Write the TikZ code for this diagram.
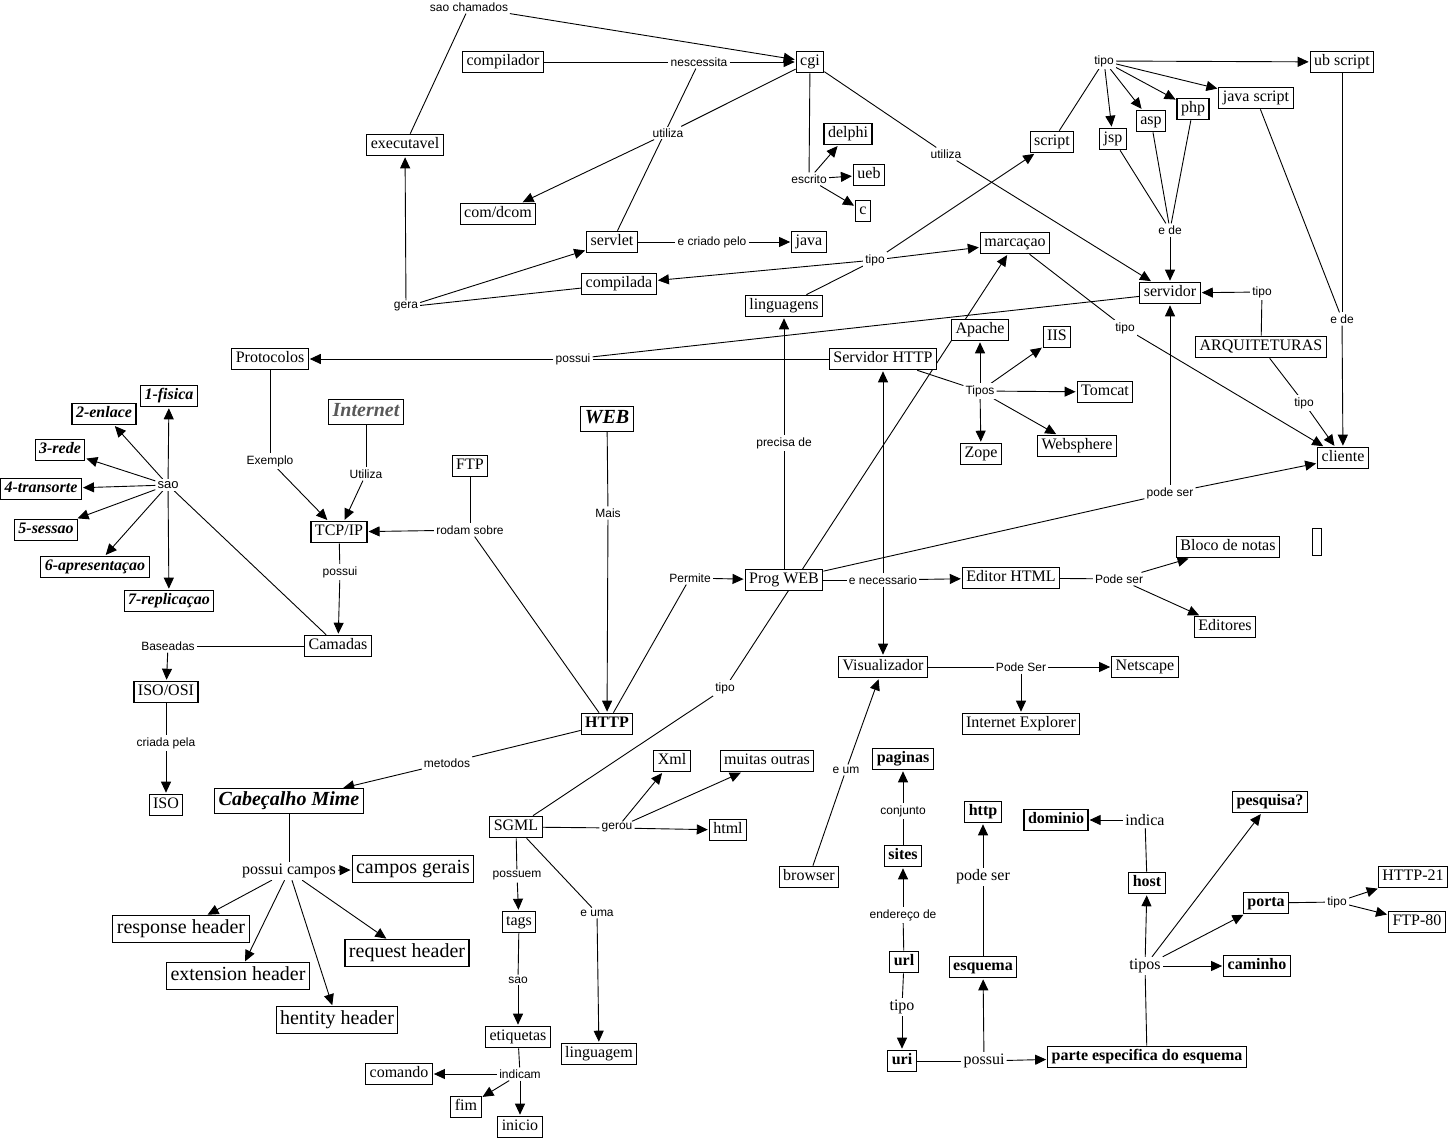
\documentclass[tikz,border=0pt]{standalone}
\usepackage{fontspec}
\setmainfont{Liberation Serif}
\setsansfont{Liberation Sans}
\usetikzlibrary{arrows.meta}
\pgfdeclarelayer{edges}
\pgfsetlayers{edges,main}
\tikzset{
  bx/.style={draw, line width=1.1pt, fill=white, inner xsep=4pt, inner ysep=3.5pt,
    font=\rmfamily\fontsize{16}{18}\selectfont, text height=11pt, text depth=3.5pt},
  bbx/.style={bx, font=\rmfamily\bfseries\fontsize{16}{18}\selectfont},
  bix/.style={bx, font=\rmfamily\bfseries\itshape\fontsize{16}{18}\selectfont},
  bigx/.style={bx, font=\rmfamily\fontsize{20}{22}\selectfont, text height=14pt, text depth=4.5pt, inner ysep=4pt},
  bigbi/.style={bigx, font=\rmfamily\bfseries\itshape\fontsize{20}{22}\selectfont, inner ysep=3pt},
  lb/.style={fill=white, inner sep=2pt, font=\sffamily\fontsize{12}{14}\selectfont},
  lbs/.style={fill=white, inner sep=2pt, font=\rmfamily\fontsize{16}{18}\selectfont},
  ar/.style={-{Triangle[length=11pt,width=10pt]}, line width=0.9pt, shorten >=1pt},
  ln/.style={line width=0.9pt},
}
\begin{document}
\begin{tikzpicture}[x=1pt,y=-1pt]
\path[use as bounding box] (0,0) rectangle (1450,1139);
% ---------- top area
\node[lb] (saocham) at (469,7) {sao chamados};
\node[bx] (compilador) at (503,62) {compilador};
\node[lb] (nesc) at (699,62) {nescessita};
\node[bx] (cgi) at (810,62) {cgi};
\node[bx] (exec) at (405,145) {executavel};
\node[lb] (util1) at (668,133) {utiliza};
\node[bx] (comdcom) at (498,214) {com/dcom};
\node[bx] (servlet) at (612,242) {servlet};
\node[lb] (criado) at (712,242) {e criado pelo};
\node[bx] (java) at (809,242) {java};
\node[bx] (compilada) at (619,284) {compilada};
\node[lb] (gera) at (406,307) {gera};
\node[bx] (delphi) at (848,134) {delphi};
\node[lb] (escrito) at (809,179) {escrito};
\node[bx] (ueb) at (869,175) {ueb};
\node[bx] (cc) at (863,211) {c};
\node[lb] (tipoling) at (875,260) {tipo};
\node[bx] (marc) at (1015,243) {marcaçao};
\node[bx] (ling) at (784,306) {linguagens};
\node[bx] (script) at (1052,142) {script};
\node[lb] (util2) at (946,154) {utiliza};
\node[lb] (tiposcr) at (1104,61) {tipo};
\node[bx] (ubscript) at (1342,62) {ub script};
\node[bx] (jscript) at (1256,98) {java script};
\node[bx] (php) at (1193,109) {php};
\node[bx] (asp) at (1151,121) {asp};
\node[bx] (jsp) at (1113,139) {jsp};
\node[lb] (ede1) at (1170,230) {e de};
\node[bx] (servidor) at (1170,293) {servidor};
\node[lb] (tiposrv) at (1262,292) {tipo};
\node[bx] (arq) at (1261,347) {ARQUITETURAS};
\node[lb] (ede2) at (1342,319) {e de};
\node[lb] (tipomarc) at (1125,328) {tipo};
\node[lb] (tipoarq) at (1304,403) {tipo};
\node[bx] (cliente) at (1343,458) {cliente};
% ---------- middle
\node[bx] (protocolos) at (270,359) {Protocolos};
\node[lb] (possui) at (573,359) {possui};
\node[bx] (servhttp) at (883,359) {Servidor HTTP};
\node[bx] (apache) at (980,330) {Apache};
\node[bx] (iis) at (1057,337) {IIS};
\node[lb] (tipos) at (980,391) {Tipos};
\node[bx] (tomcat) at (1105,392) {Tomcat};
\node[bx] (zope) at (981,454) {Zope};
\node[bx] (websphere) at (1077,446) {Websphere};
\node[lb] (precisa) at (784,443) {precisa de};
\node[lb] (podeser) at (1170,493) {pode ser};
\node[bx] (bloco) at (1228,547) {Bloco de notas};
\node[draw, line width=1.1pt, fill=white, minimum width=9pt, minimum height=27pt, inner sep=0pt] (vazio) at (1317,542) {};
\node[bx] (editores) at (1225,627) {Editores};
\node[lb] (podeser2) at (1119,579) {Pode ser};
\node[bx] (editor) at (1011,578) {Editor HTML};
\node[lb] (enec) at (883,580) {e necessario};
\node[bx] (progweb) at (784,580) {Prog WEB};
\node[lb] (permite) at (690,578) {Permite};
\node[bx] (visual) at (883,667) {Visualizador};
\node[lb] (podeser3) at (1021,667) {Pode Ser};
\node[bx] (netscape) at (1145,667) {Netscape};
\node[bx] (ie) at (1021,724) {Internet Explorer};
\node[lb] (tiposgml) at (725,688) {tipo};
% ---------- left
\node[bix] (l1) at (169,396) {1-fisica};
\node[bix] (l2) at (104,414) {2-enlace};
\node[bix] (l3) at (60,450) {3-rede};
\node[bix] (l4) at (41,489) {4-transorte};
\node[bix] (l5) at (46,530) {5-sessao};
\node[bix] (l6) at (95,567) {6-apresentaçao};
\node[bix] (l7) at (169,601) {7-replicaçao};
\node[lb, font=\sffamily\fontsize{13}{15}\selectfont] (sao) at (168,485) {sao};
\node[bigbi, text=black!65] (internet) at (366,412) {Internet};
\node[lb] (exemplo) at (270,461) {Exemplo};
\node[lb] (utiliza3) at (366,474) {Utiliza};
\node[bx] (ftp) at (470,466) {FTP};
\node[bx] (tcpip) at (339,532) {TCP/IP};
\node[lb] (rodam) at (470,530) {rodam sobre};
\node[lb] (possuitcp) at (340,572) {possui};
\node[bigbi] (web) at (607,419) {WEB};
\node[lb] (mais) at (608,513) {Mais};
\node[bx] (camadas) at (338,646) {Camadas};
\node[lb] (baseadas) at (168,646) {Baseadas};
\node[bx] (isoosi) at (166,692) {ISO/OSI};
\node[lb] (criada) at (166,743) {criada pela};
\node[bx] (iso) at (166,805) {ISO};
\node[bbx] (http) at (607,724) {HTTP};
\node[lb] (metodos) at (447,763) {metodos};
\node[bigbi] (cab) at (289,801) {Cabeçalho Mime};
\node[lbs] (pcampos) at (289,871) {possui campos};
\node[bigx] (gerais) at (413,869) {campos gerais};
\node[bigx] (response) at (181,929) {response header};
\node[bigx] (request) at (407,953) {request header};
\node[bigx] (extension) at (238,976) {extension header};
\node[bigx] (hentity) at (337,1020) {hentity header};
% ---------- SGML
\node[bx] (sgml) at (516,827) {SGML};
\node[lb] (gerou) at (617,828) {gerou};
\node[bx] (xml) at (672,761) {Xml};
\node[bx] (muitas) at (767,761) {muitas outras};
\node[bx] (html) at (728,830) {html};
\node[lb] (possuem) at (517,876) {possuem};
\node[bx] (tags) at (519,922) {tags};
\node[lb] (euma) at (597,913) {e uma};
\node[lb] (saotags) at (518,980) {sao};
\node[bx] (etiq) at (518,1037) {etiquetas};
\node[bx] (lingua) at (599,1054) {linguagem};
\node[lb] (indicam) at (520,1074) {indicam};
\node[bx] (comando) at (399,1074) {comando};
\node[bx] (fim) at (466,1107) {fim};
\node[bx] (inicio) at (520,1127) {inicio};
% ---------- url part
\node[lb] (eum) at (846,770) {e um};
\node[bx] (browser) at (809,877) {browser};
\node[bbx] (paginas) at (903,759) {paginas};
\node[lb] (conjunto) at (903,811) {conjunto};
\node[bbx] (sites) at (903,856) {sites};
\node[lb] (endereco) at (903,915) {endereço de};
\node[bbx] (url) at (904,962) {url};
\node[lbs] (tipourl) at (902,1007) {tipo};
\node[bbx] (uri) at (902,1061) {uri};
\node[lbs] (possuiuri) at (984,1061) {possui};
\node[bbx] (parte) at (1147,1057) {parte especifica do esquema};
\node[bbx] (esquema) at (983,967) {esquema};
\node[lbs] (podeseresq) at (983,877) {pode ser};
\node[bbx] (httpl) at (983,812) {http};
\node[bbx] (dominio) at (1056,820) {dominio};
\node[lbs] (indica) at (1145,820) {indica};
\node[bbx] (host) at (1147,883) {host};
\node[bbx] (pesquisa) at (1270,802) {pesquisa?};
\node[bbx] (porta) at (1266,903) {porta};
\node[lb] (tipoporta) at (1337,902) {tipo};
\node[bx] (http21) at (1413,877) {HTTP-21};
\node[bx] (ftp80) at (1417,922) {FTP-80};
\node[lbs] (tiposp) at (1145,966) {tipos};
\node[bbx] (caminho) at (1257,966) {caminho};

\begin{pgfonlayer}{edges}
\fill[white] (0,0) rectangle (1450,1139);
% top
\draw[ln] (exec) -- (saocham);
\draw[ar] (saocham) -- (cgi);
\draw[ln] (compilador) -- (nesc);
\draw[ln] (servlet) -- (nesc);
\draw[ar] (nesc) -- (cgi);
\draw[ln] (cgi) -- (util1);
\draw[ar] (util1) -- (comdcom);
\draw[ar] (gera) -- (exec);
\draw[ar] (gera) -- (servlet);
\draw[ln] (compilada) -- (gera);
\draw[ln] (servlet) -- (criado);
\draw[ar] (criado) -- (java);
\draw[ln] (cgi) -- (escrito);
\draw[ar] (escrito) -- (delphi);
\draw[ar] (escrito) -- (ueb);
\draw[ar] (escrito) -- (cc);
\draw[ln] (ling) -- (tipoling);
\draw[ar] (tipoling) -- (compilada);
\draw[ar] (tipoling) -- (script);
\draw[ar] (tipoling) -- (marc);
\draw[ln] (cgi) -- (util2);
\draw[ar] (util2) -- (servidor);
\draw[ln] (script) -- (tiposcr);
\draw[ar] (tiposcr) -- (ubscript);
\draw[ar] (tiposcr) -- (jscript);
\draw[ar] (tiposcr) -- (php);
\draw[ar] (tiposcr) -- (asp);
\draw[ar] (tiposcr) -- (jsp);
\draw[ln] (jsp) -- (ede1);
\draw[ln] (asp) -- (ede1);
\draw[ln] (php) -- (ede1);
\draw[ar] (ede1) -- (servidor);
\draw[ln] (jscript) -- (ede2);
\draw[ln] (ubscript) -- (ede2);
\draw[ar] (ede2) -- (cliente);
\draw[ln] (arq) -- (tiposrv);
\draw[ar] (tiposrv) -- (servidor);
\draw[ln] (arq) -- (tipoarq);
\draw[ar] (tipoarq) -- (cliente);
\draw[ln] (marc) -- (tipomarc);
\draw[ar] (tipomarc) -- (cliente);
% middle
\draw[ln] (servidor) -- (possui);
\draw[ln] (servhttp) -- (possui);
\draw[ar] (possui) -- (protocolos);
\draw[ln] (servhttp) -- (tipos);
\draw[ar] (tipos) -- (apache);
\draw[ar] (tipos) -- (iis);
\draw[ar] (tipos) -- (tomcat);
\draw[ar] (tipos) -- (zope);
\draw[ar] (tipos) -- (websphere);
\draw[ln] (progweb) -- (precisa);
\draw[ar] (precisa) -- (ling);
\draw[ln] (progweb) -- (podeser);
\draw[ar] (podeser) -- (cliente);
\draw[ar] (podeser) -- (servidor);
\draw[ln] (progweb) -- (enec);
\draw[ar] (enec) -- (editor);
\draw[ar] (enec) -- (servhttp);
\draw[ar] (enec) -- (visual);
\draw[ln] (editor) -- (podeser2);
\draw[ar] (podeser2) -- (bloco);
\draw[ar] (podeser2) -- (editores);
\draw[ln] (visual) -- (podeser3);
\draw[ar] (podeser3) -- (netscape);
\draw[ar] (podeser3) -- (ie);
\draw[ln] (http) -- (permite);
\draw[ar] (permite) -- (progweb);
\draw[ln] (sgml) -- (tiposgml);
\draw[ar] (tiposgml) -- (marc);
% left
\draw[ln] (web) -- (mais);
\draw[ar] (mais) -- (http);
\draw[ln] (ftp) -- (rodam);
\draw[ln] (http) -- (rodam);
\draw[ar] (rodam) -- (tcpip);
\draw[ln] (protocolos) -- (exemplo);
\draw[ar] (exemplo) -- (tcpip);
\draw[ln] (internet) -- (utiliza3);
\draw[ar] (utiliza3) -- (tcpip);
\draw[ln] (tcpip) -- (possuitcp);
\draw[ar] (possuitcp) -- (camadas);
\draw[ln] (camadas) -- (sao);
\draw[ar] (sao) -- (l1);
\draw[ar] (sao) -- (l2);
\draw[ar] (sao) -- (l3);
\draw[ar] (sao) -- (l4);
\draw[ar] (sao) -- (l5);
\draw[ar] (sao) -- (l6);
\draw[ar] (sao) -- (l7);
\draw[ln] (camadas) -- (baseadas);
\draw[ar] (baseadas) -- (isoosi);
\draw[ln] (isoosi) -- (criada);
\draw[ar] (criada) -- (iso);
\draw[ln] (http) -- (metodos);
\draw[ar] (metodos) -- (cab);
\draw[ln] (cab) -- (pcampos);
\draw[ar] (pcampos) -- (gerais);
\draw[ar] (pcampos) -- (response);
\draw[ar] (pcampos) -- (extension);
\draw[ar] (pcampos) -- (hentity);
\draw[ar] (pcampos) -- (request);
% SGML
\draw[ln] (sgml) -- (gerou);
\draw[ar] (gerou) -- (xml);
\draw[ar] (gerou) -- (muitas);
\draw[ar] (gerou) -- (html);
\draw[ln] (sgml) -- (possuem);
\draw[ar] (possuem) -- (tags);
\draw[ln] (tags) -- (saotags);
\draw[ar] (saotags) -- (etiq);
\draw[ln] (etiq) -- (indicam);
\draw[ar] (indicam) -- (comando);
\draw[ar] (indicam) -- (fim);
\draw[ar] (indicam) -- (inicio);
\draw[ln] (sgml) -- (euma);
\draw[ar] (euma) -- (lingua);
% url
\draw[ln] (browser) -- (eum);
\draw[ar] (eum) -- (visual);
\draw[ln] (url) -- (endereco);
\draw[ar] (endereco) -- (sites);
\draw[ln] (sites) -- (conjunto);
\draw[ar] (conjunto) -- (paginas);
\draw[ln] (url) -- (tipourl);
\draw[ar] (tipourl) -- (uri);
\draw[ln] (uri) -- (possuiuri);
\draw[ar] (possuiuri) -- (parte);
\draw[ar] (possuiuri) -- (esquema);
\draw[ln] (esquema) -- (podeseresq);
\draw[ar] (podeseresq) -- (httpl);
\draw[ln] (parte) -- (tiposp);
\draw[ar] (tiposp) -- (host);
\draw[ar] (tiposp) -- (pesquisa);
\draw[ar] (tiposp) -- (porta);
\draw[ar] (tiposp) -- (caminho);
\draw[ln] (host) -- (indica);
\draw[ar] (indica) -- (dominio);
\draw[ln] (porta) -- (tipoporta);
\draw[ar] (tipoporta) -- (http21);
\draw[ar] (tipoporta) -- (ftp80);
\end{pgfonlayer}
\end{tikzpicture}
\end{document}
